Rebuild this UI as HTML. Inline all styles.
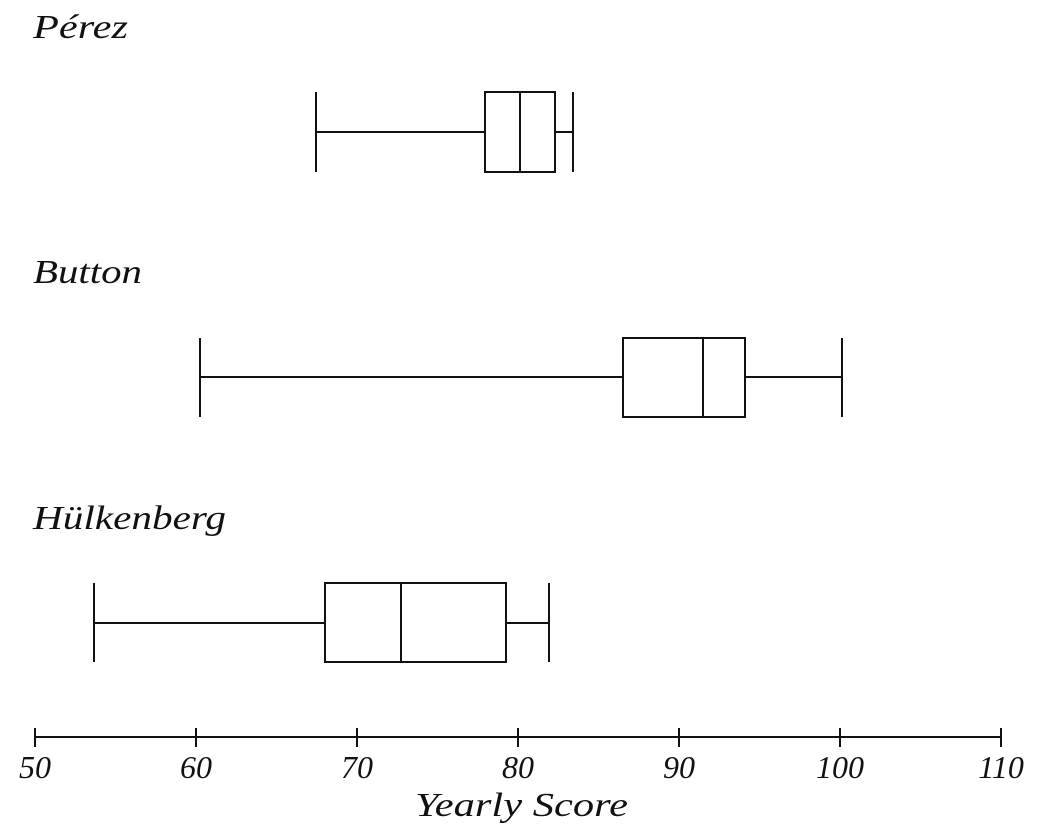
<!DOCTYPE html>
<html><head><style>body{margin:0;background:#fff}</style></head><body>
<svg width="1046" height="830" xmlns="http://www.w3.org/2000/svg" style="display:block">
<g font-family="Liberation Serif, serif" font-style="italic" fill="#111">
<text x="33" y="38" font-size="34" textLength="95" lengthAdjust="spacingAndGlyphs">Pérez</text>
<text x="33" y="283" font-size="34" textLength="109" lengthAdjust="spacingAndGlyphs">Button</text>
<text x="33" y="529" font-size="34" textLength="193" lengthAdjust="spacingAndGlyphs">Hülkenberg</text>
<g font-size="32" text-anchor="middle">
<text x="35" y="778">50</text><text x="196" y="778">60</text><text x="357" y="778">70</text>
<text x="518" y="778">80</text><text x="679" y="778">90</text><text x="840" y="778">100</text><text x="1001" y="778">110</text>
</g>
<text x="415" y="816" font-size="34" textLength="213" lengthAdjust="spacingAndGlyphs">Yearly Score</text>
</g>
<g stroke="#111" stroke-width="2" fill="none">
<line x1="35" y1="737" x2="1001" y2="737"/>
<line x1="35" y1="728" x2="35" y2="747"/><line x1="196" y1="728" x2="196" y2="747"/><line x1="357" y1="728" x2="357" y2="747"/><line x1="518" y1="728" x2="518" y2="747"/><line x1="679" y1="728" x2="679" y2="747"/><line x1="840" y1="728" x2="840" y2="747"/><line x1="1001" y1="728" x2="1001" y2="747"/>
<line x1="316" y1="132" x2="485" y2="132"/><line x1="555" y1="132" x2="573" y2="132"/>
<line x1="316" y1="92" x2="316" y2="172"/><line x1="573" y1="92" x2="573" y2="172"/>
<rect x="485" y="92" width="70" height="80"/><line x1="520" y1="92" x2="520" y2="172"/>
<line x1="200" y1="377" x2="623" y2="377"/><line x1="745" y1="377" x2="842" y2="377"/>
<line x1="200" y1="338" x2="200" y2="417"/><line x1="842" y1="338" x2="842" y2="417"/>
<rect x="623" y="338" width="122" height="79"/><line x1="703" y1="338" x2="703" y2="417"/>
<line x1="94" y1="623" x2="325" y2="623"/><line x1="506" y1="623" x2="549" y2="623"/>
<line x1="94" y1="583" x2="94" y2="662"/><line x1="549" y1="583" x2="549" y2="662"/>
<rect x="325" y="583" width="181" height="79"/><line x1="401" y1="583" x2="401" y2="662"/>
</g>
</svg>
</body></html>
